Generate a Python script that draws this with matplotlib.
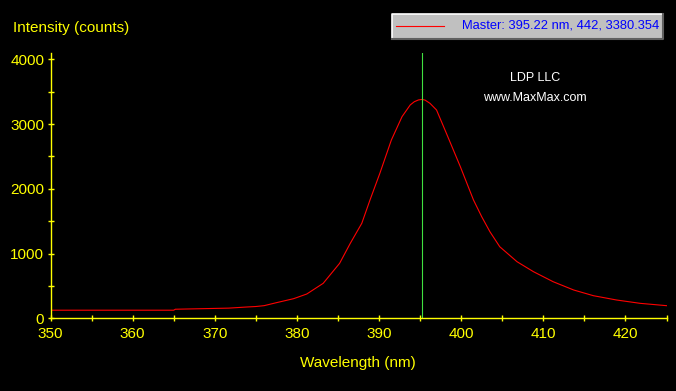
import matplotlib
matplotlib.use("Agg")
import matplotlib.pyplot as plt
import matplotlib.patches as mpatches
import matplotlib.lines as mlines
from matplotlib.ticker import MultipleLocator

# spectrum
wavelength = [350, 365, 365.2, 371.7, 373.7, 375, 376, 377.5, 379.6, 381.2,
              383.2, 385.2, 386.5, 387.9, 388.5, 388.9, 390.1, 391.5, 392.8,
              393.8, 394.3, 394.8, 395.22, 395.6, 396.2, 397, 398.2, 399.9,
              401.5, 402.5, 403.5, 404.7, 406.8, 408.8, 411.2, 413.7, 416.1,
              418.9, 421.8, 425]
intensity = [125, 125, 140, 157, 173, 182, 195, 241, 303, 375,
             540, 849, 1158, 1467, 1683, 1827, 2239, 2753, 3114,
             3295, 3345, 3372, 3380, 3370, 3320, 3217, 2857, 2341,
             1827, 1569, 1337, 1105, 874, 720, 565, 437, 349,
             283, 231, 195]
master_wl = 395.22
master_label = "Master: 395.22 nm, 442, 3380.354"
xticks = [350, 360, 370, 380, 390, 400, 410, 420]
yticks = [0, 1000, 2000, 3000, 4000]

W, H = 676, 391
yellow = '#ffff00'
plt.rcParams['font.family'] = ['Liberation Sans', 'DejaVu Sans']

fig = plt.figure(figsize=(W / 100, H / 100), dpi=100, facecolor='black')


def fx(px):
    return px / W


def fy(py):
    return 1 - py / H


ax = fig.add_axes([fx(50.5), fy(318.3), fx(666.5) - fx(50.5), fy(52.8) - fy(318.3)])
ax.set_facecolor('black')

ax.plot(wavelength, intensity, color='#ff0000', lw=0.8)
ax.axvline(master_wl, color='#40e040', lw=0.8)

ax.set_xlim(350, 425)
ax.set_ylim(0, 4100)
ax.set_xticks(xticks)
ax.set_yticks(yticks)
ax.xaxis.set_minor_locator(MultipleLocator(5))
ax.yaxis.set_minor_locator(MultipleLocator(500))

for s in ['top', 'right']:
    ax.spines[s].set_visible(False)
for s in ['left', 'bottom']:
    ax.spines[s].set_color(yellow)
    ax.spines[s].set_linewidth(1.0)

ax.tick_params(which='both', direction='inout', colors=yellow, length=5,
               width=1.0, labelsize=11, labelcolor=yellow)
ax.tick_params(axis='x', which='major', pad=4)
ax.tick_params(axis='y', which='major', pad=2)

fig.text(fx(13), fy(28), 'Intensity (counts)', color=yellow, fontsize=11,
         ha='left', va='center')
fig.text(fx(358), fy(363), 'Wavelength (nm)', color=yellow, fontsize=11,
         ha='center', va='center')

fig.text(fx(535), fy(78), 'LDP LLC', color='white', fontsize=9,
         ha='center', va='center')
fig.text(fx(535), fy(98), 'www.MaxMax.com', color='white', fontsize=9,
         ha='center', va='center')

# legend box in the top right corner
x0, y0, x1, y1 = 392, 14, 663, 39
fig.add_artist(mpatches.Rectangle((fx(x0), fy(y1)), fx(x1) - fx(x0), fy(y0) - fy(y1),
                                  transform=fig.transFigure, facecolor='#c0c0c0',
                                  edgecolor='none'))
fig.add_artist(mlines.Line2D([fx(x0), fx(x0), fx(x1)], [fy(y1), fy(y0), fy(y0)],
                             transform=fig.transFigure, color='white', lw=1.2))
fig.add_artist(mlines.Line2D([fx(x0), fx(x1), fx(x1)], [fy(y1), fy(y1), fy(y0)],
                             transform=fig.transFigure, color='#606060', lw=1.5))
fig.add_artist(mlines.Line2D([fx(396), fx(444)], [fy(25.5), fy(25.5)],
                             transform=fig.transFigure, color='#ff0000', lw=0.8))
fig.text(fx(659), fy(26), master_label, color='#0000ff', fontsize=9.3,
         ha='right', va='center')

fig.savefig('out.png', dpi=100, facecolor='black')
